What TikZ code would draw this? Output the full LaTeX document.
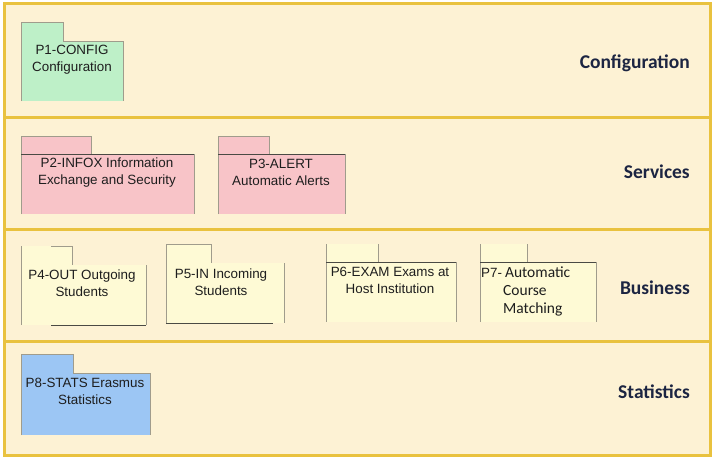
\documentclass[tikz,border=0pt]{standalone}
\usepackage{fontspec}
\setmainfont{Liberation Sans}
\newfontfamily\calibri{Carlito}
\definecolor{bandfill}{HTML}{FDF2D4}
\definecolor{bandline}{HTML}{E9C23F}
\definecolor{pgreen}{HTML}{BEF0C8}
\definecolor{ppink}{HTML}{F8C4C8}
\definecolor{pyellow}{HTML}{FEFAD5}
\definecolor{pblue}{HTML}{9CC6F4}
\definecolor{edgegray}{HTML}{A09C8C}
\definecolor{edgedark}{HTML}{4A4A44}
\definecolor{labelnavy}{HTML}{1C2542}
\definecolor{txt}{HTML}{1E1E1E}
\begin{document}
\begin{tikzpicture}[x=1pt,y=-1pt,
  band/.style={fill=bandfill,draw=bandline,line width=3pt},
  lbl/.style={anchor=east,inner sep=0pt,text=labelnavy,font=\calibri\bfseries\fontsize{19.5}{22}\selectfont},
  ptxt/.style={align=center,inner sep=0pt,text=txt,font=\fontsize{13.4}{17}\selectfont},
  ctxt/.style={anchor=west,inner sep=0pt,text=txt,font=\calibri\fontsize{15.5}{18}\selectfont},
  eg/.style={draw=edgegray,line width=0.8pt},
  ed/.style={draw=edgedark,line width=0.9pt}
]
\useasboundingbox (0,0) rectangle (715,460);
\fill[white] (0,0) rectangle (715,460);
% bands
\draw[band] (4,4) rectangle (710,117);
\draw[band] (4,117) rectangle (710,229);
\draw[band] (4,229) rectangle (710,341);
\draw[band] (4,341) rectangle (710,455);
\node[lbl] (lconf) at (690,63) {Configuration};
\node[lbl] (lserv) at (690,172) {Services};
\node[lbl] (lbus) at (690,288) {Business};
\node[lbl] (lstat) at (690,392) {Statistics};
% P1
\fill[pgreen] (21,22) rectangle (63,41);
\fill[pgreen] (21,41) rectangle (123,101);
\draw[eg] (21,101) -- (21,22) -- (63,22) -- (63,41) -- (123,41) -- (123,101);
\node[ptxt] (p1) at (72,59.5) {P1-CONFIG\\Configuration};
% P2
\fill[ppink] (21,136) rectangle (91,154);
\fill[ppink] (21,154) rectangle (194,214);
\draw[eg] (21,214) -- (21,136) -- (91,136) -- (91,154);
\draw[eg] (194,154) -- (194,214);
\draw[ed] (21,154) -- (194,154);
\node[ptxt] (p2) at (107,172.5) {P2-INFOX Information\\Exchange and Security};
% P3
\fill[ppink] (218,136) rectangle (269,154);
\fill[ppink] (218,154) rectangle (345,214);
\draw[eg] (218,214) -- (218,136) -- (269,136) -- (269,154);
\draw[eg] (345,154) -- (345,214);
\draw[ed] (218,154) -- (345,154);
\node[ptxt] (p3) at (281,172.5) {P3-ALERT\\Automatic Alerts};
% P4
\fill[pyellow] (21,246) rectangle (72,265);
\fill[pyellow] (21,265) rectangle (146,325);
\draw[eg] (21,246) -- (21,325);
\draw[eg] (51,246) -- (72,246) -- (72,265);
\draw[eg] (146,265) -- (146,325);
\draw[ed] (51,325) -- (146,325);
\node[ptxt] (p4) at (82,283.5) {P4-OUT Outgoing\\Students};
% P5
\fill[pyellow] (166,244) rectangle (211,263);
\fill[pyellow] (166,263) rectangle (284,323);
\draw[eg] (166,323) -- (166,244) -- (211,244) -- (211,263);
\draw[eg] (284,263) -- (284,323);
\draw[ed] (166,323) -- (273,323);
\node[ptxt] (p5) at (221,282.5) {P5-IN Incoming\\Students};
% P6
\fill[pyellow] (326,244) rectangle (378,262);
\fill[pyellow] (326,262) rectangle (456,322);
\draw[eg] (326,244) -- (326,322);
\draw[eg] (378,244) -- (378,262);
\draw[eg] (456,262) -- (456,322);
\draw[ed] (326,262) -- (456,262);
\node[ptxt] (p6) at (390,280.5) {P6-EXAM Exams at\\Host Institution};
% P7
\fill[pyellow] (480,244) rectangle (527,262);
\fill[pyellow] (480,262) rectangle (596,322);
\draw[eg] (480,244) -- (480,322);
\draw[eg] (527,244) -- (527,262);
\draw[eg] (596,262) -- (596,322);
\draw[ed] (480,262) -- (596,262);
\node[anchor=west,inner sep=0pt,text=txt,font=\fontsize{13.4}{17}\selectfont] (p7a) at (481,272.5) {P7-};
\node[ctxt] (p7b) at (p7a.east) {\,Automatic};
\node[ctxt] (p7c) at (503,291) {Course};
\node[ctxt] (p7d) at (503,309) {Matching};
% P8
\fill[pblue] (21,354) rectangle (73,373);
\fill[pblue] (21,373) rectangle (150,435);
\draw[eg] (21,435) -- (21,354) -- (73,354) -- (73,373) -- (150,373) -- (150,435);
\node[ptxt] (p8) at (85,391) {P8-STATS Erasmus\\Statistics};
\end{tikzpicture}
\end{document}
